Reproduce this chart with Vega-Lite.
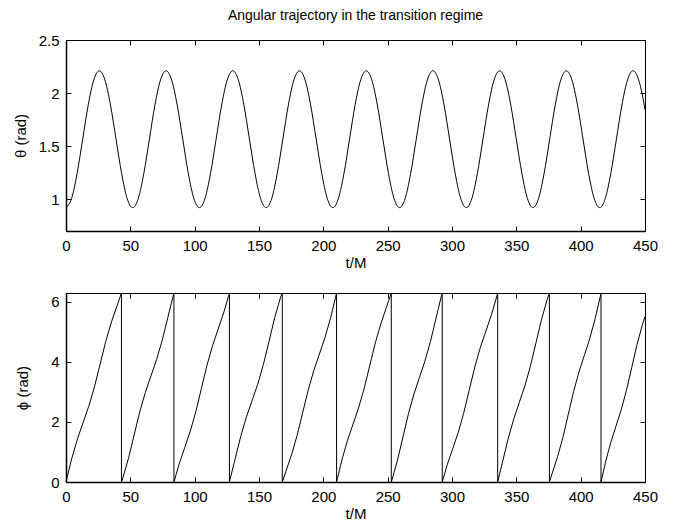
{
  "$schema": "https://vega.github.io/schema/vega-lite/v6.json",
  "background": "white",
  "padding": {"left": 12, "top": 8, "right": 0, "bottom": 0},
  "spacing": 19,
  "config": {
    "font": "Liberation Sans",
    "view": {"stroke": "black", "strokeWidth": 1},
    "axis": {
      "grid": false,
      "domainColor": "black",
      "domainWidth": 1.5,
      "tickColor": "black",
      "tickSize": -5,
      "tickWidth": 1,
      "labelColor": "black",
      "labelFont": "Liberation Sans",
      "labelFontSize": 15,
      "labelPadding": 12,
      "labelFlush": false,
      "labelOverlap": false,
      "labelBound": false,
      "titleColor": "black",
      "titleFont": "Liberation Sans",
      "titleFontSize": 15,
      "titleFontWeight": "normal"
    },
    "line": {"color": "black", "strokeWidth": 1}
  },
  "datasets": {
    "theta": [
      {"t": 0, "v": 0.920}, {"t": 4.32, "v": 1.006}, {"t": 8.64, "v": 1.243}, {"t": 12.96, "v": 1.565}, {"t": 17.28, "v": 1.888}, {"t": 21.61, "v": 2.124}, {"t": 25.93, "v": 2.210}, {"t": 30.25, "v": 2.124}, {"t": 34.57, "v": 1.888}, {"t": 38.89, "v": 1.565}, {"t": 43.21, "v": 1.243}, {"t": 47.53, "v": 1.006},
      {"t": 51.85, "v": 0.920}, {"t": 56.17, "v": 1.006}, {"t": 60.49, "v": 1.243}, {"t": 64.81, "v": 1.565}, {"t": 69.13, "v": 1.888}, {"t": 73.46, "v": 2.124}, {"t": 77.78, "v": 2.210}, {"t": 82.10, "v": 2.124}, {"t": 86.42, "v": 1.888}, {"t": 90.74, "v": 1.565}, {"t": 95.06, "v": 1.243}, {"t": 99.38, "v": 1.006},
      {"t": 103.70, "v": 0.920}, {"t": 108.02, "v": 1.006}, {"t": 112.34, "v": 1.243}, {"t": 116.66, "v": 1.565}, {"t": 120.98, "v": 1.888}, {"t": 125.31, "v": 2.124}, {"t": 129.63, "v": 2.210}, {"t": 133.95, "v": 2.124}, {"t": 138.27, "v": 1.888}, {"t": 142.59, "v": 1.565}, {"t": 146.91, "v": 1.243}, {"t": 151.23, "v": 1.006},
      {"t": 155.55, "v": 0.920}, {"t": 159.87, "v": 1.006}, {"t": 164.19, "v": 1.243}, {"t": 168.51, "v": 1.565}, {"t": 172.83, "v": 1.888}, {"t": 177.16, "v": 2.124}, {"t": 181.48, "v": 2.210}, {"t": 185.80, "v": 2.124}, {"t": 190.12, "v": 1.888}, {"t": 194.44, "v": 1.565}, {"t": 198.76, "v": 1.243}, {"t": 203.08, "v": 1.006},
      {"t": 207.40, "v": 0.920}, {"t": 211.72, "v": 1.006}, {"t": 216.04, "v": 1.243}, {"t": 220.36, "v": 1.565}, {"t": 224.68, "v": 1.888}, {"t": 229.01, "v": 2.124}, {"t": 233.33, "v": 2.210}, {"t": 237.65, "v": 2.124}, {"t": 241.97, "v": 1.888}, {"t": 246.29, "v": 1.565}, {"t": 250.61, "v": 1.243}, {"t": 254.93, "v": 1.006},
      {"t": 259.25, "v": 0.920}, {"t": 263.57, "v": 1.006}, {"t": 267.89, "v": 1.243}, {"t": 272.21, "v": 1.565}, {"t": 276.53, "v": 1.888}, {"t": 280.86, "v": 2.124}, {"t": 285.18, "v": 2.210}, {"t": 289.50, "v": 2.124}, {"t": 293.82, "v": 1.888}, {"t": 298.14, "v": 1.565}, {"t": 302.46, "v": 1.243}, {"t": 306.78, "v": 1.006},
      {"t": 311.10, "v": 0.920}, {"t": 315.42, "v": 1.006}, {"t": 319.74, "v": 1.243}, {"t": 324.06, "v": 1.565}, {"t": 328.38, "v": 1.888}, {"t": 332.71, "v": 2.124}, {"t": 337.03, "v": 2.210}, {"t": 341.35, "v": 2.124}, {"t": 345.67, "v": 1.888}, {"t": 349.99, "v": 1.565}, {"t": 354.31, "v": 1.243}, {"t": 358.63, "v": 1.006},
      {"t": 362.95, "v": 0.920}, {"t": 367.27, "v": 1.006}, {"t": 371.59, "v": 1.243}, {"t": 375.91, "v": 1.565}, {"t": 380.23, "v": 1.888}, {"t": 384.56, "v": 2.124}, {"t": 388.88, "v": 2.210}, {"t": 393.20, "v": 2.124}, {"t": 397.52, "v": 1.888}, {"t": 401.84, "v": 1.565}, {"t": 406.16, "v": 1.243}, {"t": 410.48, "v": 1.006},
      {"t": 414.80, "v": 0.920}, {"t": 419.12, "v": 1.006}, {"t": 423.44, "v": 1.243}, {"t": 427.76, "v": 1.565}, {"t": 432.08, "v": 1.888}, {"t": 436.41, "v": 2.124}, {"t": 440.73, "v": 2.210}, {"t": 445.05, "v": 2.124}, {"t": 449.37, "v": 1.888}, {"t": 450, "v": 1.843}
    ],
    "phi": [
      {"t": 0, "p": 0}, {"t": 4.42, "p": 0.772}, {"t": 8.83, "p": 1.423}, {"t": 13.25, "p": 1.971}, {"t": 17.67, "p": 2.517}, {"t": 22.09, "p": 3.161}, {"t": 26.51, "p": 3.92}, {"t": 30.92, "p": 4.679}, {"t": 35.34, "p": 5.323}, {"t": 39.76, "p": 5.869}, {"t": 43.1, "p": 6.283}, {"t": 43.1, "p": 0},
      {"t": 44.16, "p": 0.133}, {"t": 48.54, "p": 0.785}, {"t": 52.92, "p": 1.557}, {"t": 57.3, "p": 2.329}, {"t": 61.68, "p": 2.98}, {"t": 66.05, "p": 3.528}, {"t": 70.43, "p": 4.074}, {"t": 74.82, "p": 4.718}, {"t": 79.2, "p": 5.477}, {"t": 83.57, "p": 6.236}, {"t": 83.9, "p": 6.283}, {"t": 83.9, "p": 0},
      {"t": 87.92, "p": 0.597}, {"t": 92.25, "p": 1.143}, {"t": 96.59, "p": 1.69}, {"t": 100.92, "p": 2.342}, {"t": 105.26, "p": 3.114}, {"t": 109.59, "p": 3.885}, {"t": 113.93, "p": 4.537}, {"t": 118.27, "p": 5.085}, {"t": 122.6, "p": 5.63}, {"t": 126.95, "p": 6.274}, {"t": 127.0, "p": 6.283}, {"t": 127.0, "p": 0},
      {"t": 131.35, "p": 0.75}, {"t": 135.76, "p": 1.51}, {"t": 140.16, "p": 2.154}, {"t": 144.56, "p": 2.699}, {"t": 148.97, "p": 3.247}, {"t": 153.37, "p": 3.899}, {"t": 157.77, "p": 4.67}, {"t": 162.18, "p": 5.462}, {"t": 166.58, "p": 6.114}, {"t": 168.1, "p": 6.283}, {"t": 168.1, "p": 0},
      {"t": 170.94, "p": 0.358}, {"t": 175.28, "p": 0.904}, {"t": 179.63, "p": 1.548}, {"t": 183.96, "p": 2.307}, {"t": 188.3, "p": 3.067}, {"t": 192.64, "p": 3.711}, {"t": 196.98, "p": 4.256}, {"t": 201.31, "p": 4.804}, {"t": 205.65, "p": 5.456}, {"t": 209.99, "p": 6.227}, {"t": 210.3, "p": 6.283}, {"t": 210.3, "p": 0},
      {"t": 214.33, "p": 0.716}, {"t": 218.67, "p": 1.368}, {"t": 223.01, "p": 1.915}, {"t": 227.35, "p": 2.461}, {"t": 231.71, "p": 3.105}, {"t": 236.05, "p": 3.864}, {"t": 240.39, "p": 4.623}, {"t": 244.73, "p": 5.267}, {"t": 249.07, "p": 5.813}, {"t": 252.8, "p": 6.283}, {"t": 252.8, "p": 0},
      {"t": 253.4, "p": 0.078}, {"t": 257.66, "p": 0.729}, {"t": 261.91, "p": 1.501}, {"t": 266.17, "p": 2.273}, {"t": 270.43, "p": 2.924}, {"t": 274.68, "p": 3.472}, {"t": 278.94, "p": 4.018}, {"t": 283.21, "p": 4.662}, {"t": 287.46, "p": 5.421}, {"t": 291.72, "p": 6.18}, {"t": 292.4, "p": 6.283}, {"t": 292.4, "p": 0},
      {"t": 296.05, "p": 0.541}, {"t": 300.39, "p": 1.087}, {"t": 304.73, "p": 1.634}, {"t": 309.07, "p": 2.286}, {"t": 313.41, "p": 3.058}, {"t": 317.75, "p": 3.829}, {"t": 322.09, "p": 4.481}, {"t": 326.44, "p": 5.029}, {"t": 330.78, "p": 5.575}, {"t": 335.13, "p": 6.218}, {"t": 335.5, "p": 6.283}, {"t": 335.5, "p": 0},
      {"t": 339.43, "p": 0.695}, {"t": 343.72, "p": 1.454}, {"t": 348.01, "p": 2.098}, {"t": 352.31, "p": 2.644}, {"t": 356.6, "p": 3.191}, {"t": 360.89, "p": 3.843}, {"t": 365.19, "p": 4.615}, {"t": 369.48, "p": 5.386}, {"t": 373.77, "p": 6.038}, {"t": 375.7, "p": 6.283}, {"t": 375.7, "p": 0},
      {"t": 377.98, "p": 0.302}, {"t": 382.11, "p": 0.848}, {"t": 386.26, "p": 1.492}, {"t": 390.39, "p": 2.251}, {"t": 394.52, "p": 3.011}, {"t": 398.66, "p": 3.655}, {"t": 402.79, "p": 4.2}, {"t": 406.93, "p": 4.748}, {"t": 411.06, "p": 5.4}, {"t": 415.2, "p": 6.157}, {"t": 415.8, "p": 6.283}, {"t": 415.8, "p": 0},
      {"t": 419.29, "p": 0.66}, {"t": 423.37, "p": 1.312}, {"t": 427.45, "p": 1.859}, {"t": 431.53, "p": 2.405}, {"t": 435.62, "p": 3.049}, {"t": 439.7, "p": 3.808}, {"t": 443.78, "p": 4.567}, {"t": 447.86, "p": 5.211}, {"t": 450, "p": 5.5}
    ]
  },
  "vconcat": [
    {
      "width": 579,
      "height": 191,
      "title": {"text": "Angular trajectory in the transition regime", "fontSize": 14, "fontWeight": "normal", "font": "Liberation Sans", "color": "black", "offset": 10},
      "data": {"name": "theta"},
      "resolve": {"axis": {"x": "independent", "y": "independent"}},
      "layer": [
        {
          "mark": {"type": "line", "interpolate": "monotone"},
          "encoding": {
            "x": {"field": "t", "type": "quantitative", "scale": {"domain": [0, 450], "nice": false, "zero": false},
                  "axis": {"values": [0, 50, 100, 150, 200, 250, 300, 350, 400, 450], "title": "t/M", "titlePadding": 2}},
            "y": {"field": "v", "type": "quantitative", "scale": {"domain": [0.7, 2.5], "nice": false, "zero": false},
                  "axis": {"values": [1, 1.5, 2, 2.5], "format": "~g", "title": "θ (rad)", "titlePadding": 10}}
          }
        },
        {
          "mark": {"type": "line", "interpolate": "monotone", "strokeOpacity": 0},
          "encoding": {
            "x": {"field": "t", "type": "quantitative",
                  "axis": {"orient": "top", "values": [0, 50, 100, 150, 200, 250, 300, 350, 400, 450], "labels": false, "title": null, "domain": false}},
            "y": {"field": "v", "type": "quantitative",
                  "axis": {"orient": "right", "values": [1, 1.5, 2, 2.5], "labels": false, "title": null, "domain": false}}
          }
        }
      ]
    },
    {
      "width": 579,
      "height": 189,
      "data": {"name": "phi"},
      "resolve": {"axis": {"x": "independent", "y": "independent"}},
      "layer": [
        {
          "mark": {"type": "line"},
          "encoding": {
            "x": {"field": "t", "type": "quantitative", "scale": {"domain": [0, 450], "nice": false, "zero": false},
                  "axis": {"values": [0, 50, 100, 150, 200, 250, 300, 350, 400, 450], "title": "t/M", "titlePadding": 2}},
            "y": {"field": "p", "type": "quantitative", "scale": {"domain": [0, 6.2832], "nice": false, "zero": false},
                  "axis": {"values": [0, 2, 4, 6], "title": "ϕ (rad)", "titlePadding": 20}},
            "order": {"value": null}
          }
        },
        {
          "mark": {"type": "line", "strokeOpacity": 0},
          "encoding": {
            "x": {"field": "t", "type": "quantitative",
                  "axis": {"orient": "top", "values": [0, 50, 100, 150, 200, 250, 300, 350, 400, 450], "labels": false, "title": null, "domain": false}},
            "y": {"field": "p", "type": "quantitative",
                  "axis": {"orient": "right", "values": [0, 2, 4, 6], "labels": false, "title": null, "domain": false}},
            "order": {"value": null}
          }
        }
      ]
    }
  ]
}
